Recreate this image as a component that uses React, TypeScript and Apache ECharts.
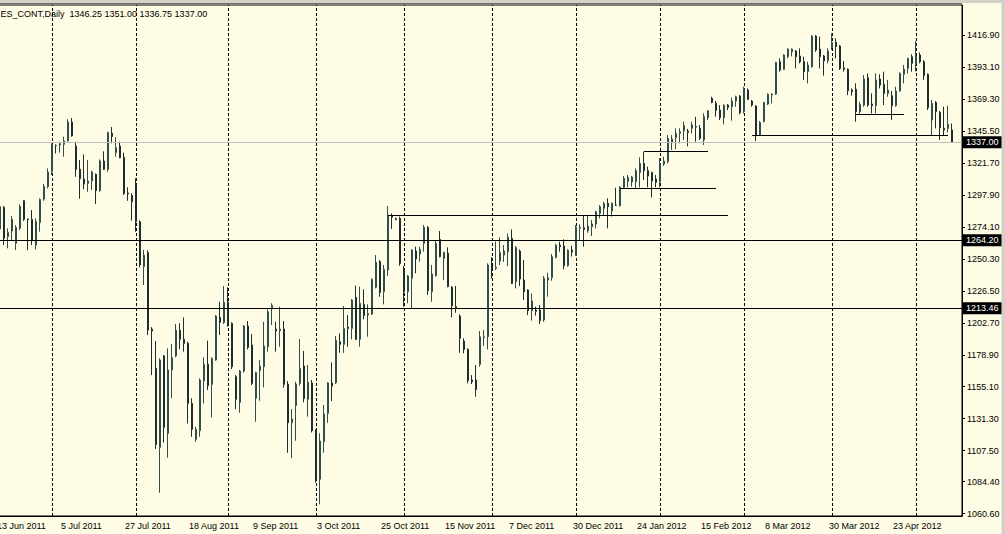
import React, { useEffect, useRef } from "react";
import * as echarts from "echarts";

// ---------- data ----------
const TITLE = "ES_CONT,Daily\u00a0 1346.25 1351.00 1336.75 1337.00";

// trading sessions shown (weekdays, minus closed days, plus one Sunday session)
const FIRST_DAY = "2011-06-13";
const LAST_DAY = "2012-05-14";
const CLOSED_DAYS = ["2011-12-26", "2012-01-02"];
const EXTRA_SESSIONS = ["2011-10-30"];
const EMPTY_SLOTS_AFTER = 2;
const MONTHS = ["Jan", "Feb", "Mar", "Apr", "May", "Jun", "Jul", "Aug", "Sep", "Oct", "Nov", "Dec"];
const LABEL_EVERY = 16;

// [open, high, low, close], one row per session from 14 Jun 2011 on
const ohlc: number[][] = [
  // Jun 2011
  [1272.5, 1290.0, 1270.0, 1289.1], [1288.6, 1289.6, 1260.6, 1265.5], [1266.8, 1273.0, 1258.1, 1270.0],
  [1271.0, 1282.1, 1263.8, 1279.7], [1261.8, 1275.4, 1256.8, 1273.7], [1273.0, 1290.8, 1271.7, 1289.3],
  [1293.6, 1294.0, 1278.4, 1279.7], [1279.9, 1280.1, 1256.8, 1279.4], [1279.7, 1286.6, 1260.6, 1263.8],
  [1260.6, 1280.4, 1257.3, 1278.2], [1277.4, 1295.3, 1270.5, 1294.5], [1294.8, 1306.0, 1293.5, 1304.2],
  [1304.0, 1317.6, 1302.7, 1314.9],
  // Jul 2011
  [1315.1, 1336.2, 1312.6, 1335.7], [1334.5, 1335.5, 1328.8, 1334.4], [1335.0, 1337.5, 1329.3, 1336.0],
  [1335.5, 1341.2, 1326.3, 1338.0], [1338.2, 1354.1, 1337.5, 1352.1], [1352.1, 1355.1, 1341.2, 1341.9],
  [1334.2, 1337.5, 1311.4, 1316.9], [1316.9, 1323.8, 1295.0, 1309.9], [1309.7, 1328.0, 1302.0, 1306.0],
  [1306.5, 1323.8, 1300.2, 1308.2], [1308.2, 1315.9, 1301.5, 1314.9], [1313.1, 1313.9, 1291.1, 1301.0],
  [1301.0, 1324.3, 1300.2, 1323.1], [1323.1, 1330.3, 1316.4, 1316.9], [1316.9, 1344.9, 1315.1, 1344.4],
  [1343.7, 1348.4, 1336.2, 1341.4], [1329.3, 1340.7, 1326.3, 1333.2], [1334.2, 1337.5, 1325.1, 1325.5],
  [1325.8, 1329.3, 1297.8, 1299.0], [1299.3, 1303.5, 1293.5, 1298.5], [1297.5, 1299.0, 1278.7, 1292.8],
  // Aug 2011
  [1306.0, 1310.2, 1270.5, 1277.9], [1277.9, 1279.0, 1244.0, 1245.7], [1244.5, 1257.0, 1230.8, 1253.0],
  [1255.0, 1256.5, 1193.6, 1197.3], [1198.0, 1199.5, 1163.8, 1196.5], [1168.8, 1189.1, 1108.8, 1112.2],
  [1110.0, 1176.2, 1076.2, 1175.0], [1178.0, 1178.7, 1113.5, 1124.9], [1120.4, 1183.7, 1102.3, 1167.6],
  [1167.6, 1186.9, 1146.5, 1176.7], [1178.0, 1201.8, 1177.0, 1197.1], [1197.1, 1202.3, 1182.9, 1190.4],
  [1190.4, 1206.7, 1181.2, 1187.4], [1187.4, 1188.6, 1127.8, 1142.7], [1142.7, 1146.5, 1117.9, 1123.4],
  [1115.9, 1125.4, 1114.2, 1123.4], [1122.4, 1161.3, 1117.9, 1160.1], [1159.4, 1177.0, 1142.7, 1171.8],
  [1171.8, 1189.4, 1152.7, 1155.9], [1156.9, 1177.0, 1132.3, 1176.2], [1175.0, 1208.5, 1174.5, 1207.7],
  [1206.7, 1218.4, 1193.6, 1203.0], [1202.8, 1230.1, 1201.8, 1217.9],
  // Sep 2011
  [1217.9, 1229.1, 1199.8, 1201.5], [1202.3, 1203.0, 1168.3, 1170.0], [1162.6, 1163.8, 1138.3, 1145.7],
  [1143.5, 1167.6, 1135.8, 1166.8], [1166.8, 1201.0, 1165.6, 1200.3], [1200.3, 1204.0, 1182.9, 1184.4],
  [1186.2, 1194.3, 1156.4, 1157.6], [1146.5, 1166.3, 1129.1, 1165.6], [1167.1, 1175.0, 1144.7, 1170.5],
  [1170.0, 1203.5, 1154.6, 1185.4], [1184.9, 1212.7, 1181.2, 1210.9], [1213.9, 1217.2, 1201.0, 1215.7],
  [1198.0, 1203.5, 1181.2, 1196.5], [1196.8, 1214.7, 1184.9, 1198.0], [1198.1, 1204.0, 1154.4, 1156.9],
  [1156.9, 1159.3, 1106.0, 1128.3], [1128.3, 1138.5, 1101.8, 1131.1], [1141.0, 1158.8, 1114.9, 1157.1],
  [1157.6, 1190.6, 1155.9, 1168.8], [1170.5, 1181.7, 1143.5, 1146.4], [1145.7, 1171.3, 1132.8, 1158.4],
  [1157.9, 1160.1, 1121.1, 1122.4],
  // Oct 2011
  [1122.9, 1123.4, 1083.7, 1085.7], [1086.2, 1120.4, 1067.6, 1114.7], [1114.2, 1141.5, 1106.0, 1134.8],
  [1135.3, 1158.4, 1128.3, 1157.9], [1157.9, 1173.2, 1144.5, 1155.6], [1158.1, 1192.8, 1157.1, 1189.6],
  [1188.6, 1194.8, 1180.4, 1186.6], [1186.6, 1215.2, 1180.4, 1198.5], [1199.5, 1208.5, 1184.9, 1198.5],
  [1198.5, 1220.4, 1190.4, 1219.6], [1221.6, 1230.3, 1189.9, 1190.4], [1190.4, 1229.6, 1184.9, 1217.2],
  [1216.4, 1227.6, 1205.3, 1208.0], [1208.5, 1216.4, 1192.3, 1209.7], [1209.2, 1235.8, 1208.5, 1235.0],
  [1229.1, 1253.1, 1228.3, 1247.7], [1248.2, 1249.4, 1222.1, 1225.3], [1225.8, 1245.7, 1216.4, 1242.5],
  [1242.0, 1289.6, 1237.5, 1282.9], [1282.4, 1284.1, 1272.5, 1281.2], [1280.2, 1281.0, 1279.0, 1279.6],
  [1280.4, 1281.7, 1245.2, 1246.9],
  // Nov 2011
  [1242.5, 1245.0, 1214.7, 1225.8], [1225.8, 1238.2, 1217.2, 1237.5], [1235.8, 1257.6, 1213.4, 1256.8],
  [1256.1, 1259.3, 1239.5, 1250.2], [1253.9, 1259.3, 1248.2, 1257.3], [1261.8, 1275.4, 1255.6, 1273.7],
  [1273.7, 1274.7, 1223.4, 1226.6], [1225.8, 1245.7, 1218.4, 1239.0], [1237.7, 1264.3, 1237.0, 1261.8],
  [1264.8, 1271.0, 1251.4, 1251.9], [1250.6, 1255.6, 1234.5, 1254.9], [1254.4, 1258.8, 1229.1, 1229.6],
  [1229.1, 1230.1, 1206.7, 1215.4], [1214.7, 1230.1, 1210.2, 1213.9], [1207.7, 1209.0, 1180.4, 1191.1],
  [1189.1, 1191.1, 1179.9, 1182.9], [1182.9, 1183.7, 1157.6, 1159.6], [1160.1, 1163.8, 1157.1, 1158.8],
  [1160.1, 1171.3, 1147.7, 1153.1], [1171.7, 1196.6, 1170.0, 1192.3], [1191.6, 1197.3, 1185.6, 1192.3],
  [1192.3, 1246.9, 1182.9, 1245.7],
  // Dec 2011
  [1244.9, 1251.4, 1235.8, 1243.2], [1243.0, 1263.1, 1242.0, 1244.0], [1248.7, 1266.3, 1245.7, 1255.1],
  [1253.1, 1260.5, 1248.0, 1256.1], [1255.6, 1269.2, 1244.9, 1266.3], [1265.5, 1272.2, 1231.5, 1232.0],
  [1233.3, 1259.8, 1228.3, 1258.8], [1256.1, 1257.3, 1230.1, 1235.3], [1234.5, 1249.4, 1219.6, 1225.8],
  [1227.1, 1227.6, 1208.5, 1211.7], [1211.7, 1224.6, 1204.3, 1218.9], [1212.2, 1214.7, 1208.0, 1211.2],
  [1212.2, 1215.9, 1201.8, 1204.3], [1204.8, 1237.5, 1203.5, 1235.8], [1234.5, 1240.0, 1222.1, 1236.3],
  [1236.3, 1253.9, 1234.0, 1251.9], [1251.4, 1261.3, 1250.6, 1260.5], [1260.5, 1263.0, 1255.6, 1259.3],
  [1259.8, 1264.8, 1242.5, 1245.2], [1245.2, 1257.3, 1244.5, 1256.8], [1256.8, 1260.0, 1252.0, 1255.4],
  // Jan 2012
  [1252.9, 1275.4, 1252.4, 1273.9], [1273.0, 1275.9, 1264.3, 1273.9], [1273.5, 1282.2, 1259.3, 1272.2],
  [1271.2, 1282.9, 1269.7, 1274.7], [1274.2, 1279.2, 1267.3, 1276.2], [1276.2, 1286.1, 1273.0, 1285.4],
  [1284.1, 1290.3, 1280.4, 1289.1], [1287.8, 1292.8, 1282.9, 1291.6], [1291.6, 1295.3, 1273.0, 1289.1],
  [1285.9, 1292.1, 1281.7, 1291.6], [1290.3, 1303.2, 1289.6, 1290.1], [1289.8, 1304.5, 1289.1, 1303.5],
  [1303.5, 1311.9, 1302.7, 1310.2], [1307.7, 1312.7, 1303.5, 1310.9], [1307.5, 1312.0, 1304.0, 1311.2],
  [1307.7, 1317.6, 1302.7, 1315.9], [1314.6, 1325.8, 1303.5, 1321.3], [1321.3, 1330.0, 1308.9, 1315.9],
  [1315.9, 1318.9, 1303.5, 1311.9], [1314.6, 1315.1, 1296.0, 1308.2], [1309.7, 1312.7, 1303.5, 1307.2],
  // Feb 2012
  [1307.7, 1325.1, 1303.5, 1321.3], [1320.8, 1326.3, 1319.4, 1323.1], [1322.6, 1342.4, 1321.3, 1340.0],
  [1336.7, 1342.4, 1331.3, 1339.5], [1340.4, 1347.4, 1331.8, 1343.7], [1343.7, 1347.4, 1336.2, 1344.9],
  [1345.5, 1352.4, 1338.7, 1349.5], [1345.4, 1347.0, 1334.0, 1344.4], [1347.4, 1352.4, 1343.7, 1349.9],
  [1348.8, 1356.0, 1337.5, 1348.3], [1347.4, 1349.9, 1338.7, 1339.9], [1338.7, 1358.5, 1335.0, 1356.1],
  [1355.3, 1361.0, 1353.6, 1360.3], [1369.7, 1370.9, 1366.0, 1366.7], [1366.0, 1367.7, 1356.1, 1360.8],
  [1361.0, 1364.7, 1353.6, 1355.3], [1355.3, 1365.2, 1350.4, 1364.7], [1364.7, 1365.5, 1361.0, 1363.0],
  [1363.5, 1370.2, 1353.1, 1367.7], [1367.7, 1371.7, 1363.5, 1370.9], [1371.4, 1372.2, 1357.8, 1359.0],
  // Mar 2012
  [1359.8, 1378.4, 1358.5, 1376.7], [1375.9, 1377.1, 1368.5, 1369.0], [1367.7, 1368.5, 1363.5, 1364.7],
  [1364.0, 1364.7, 1338.0, 1341.9], [1342.4, 1352.8, 1341.9, 1351.9], [1352.4, 1367.2, 1351.9, 1366.7],
  [1365.5, 1373.4, 1364.7, 1372.7], [1372.2, 1373.4, 1366.0, 1372.9], [1372.9, 1397.0, 1372.2, 1396.5],
  [1397.0, 1399.5, 1389.6, 1390.8], [1391.3, 1402.5, 1390.8, 1402.0], [1400.7, 1406.9, 1399.5, 1406.4],
  [1404.4, 1406.9, 1401.0, 1406.4], [1404.9, 1405.7, 1392.0, 1400.7], [1401.2, 1406.9, 1395.8, 1397.0],
  [1397.0, 1400.7, 1383.4, 1389.6], [1389.6, 1397.0, 1380.9, 1394.5], [1393.3, 1416.8, 1392.5, 1416.1],
  [1416.1, 1416.8, 1404.4, 1405.7], [1406.4, 1415.6, 1392.0, 1400.7], [1401.2, 1402.0, 1386.6, 1397.5],
  [1397.7, 1406.9, 1395.8, 1404.9],
  // Apr 2012
  [1407.4, 1418.1, 1405.7, 1411.4], [1411.4, 1414.4, 1399.5, 1408.2], [1408.7, 1409.4, 1390.8, 1392.0],
  [1392.5, 1397.5, 1389.6, 1391.3], [1391.3, 1392.0, 1372.2, 1375.4], [1375.9, 1377.1, 1371.7, 1374.7],
  [1376.4, 1380.9, 1352.4, 1359.8], [1359.8, 1367.2, 1357.3, 1365.2], [1364.7, 1387.1, 1363.5, 1384.1],
  [1385.1, 1388.3, 1363.5, 1364.7], [1365.5, 1373.4, 1358.5, 1364.3], [1364.3, 1388.3, 1358.5, 1383.4],
  [1384.1, 1387.6, 1377.1, 1379.6], [1380.1, 1389.6, 1364.7, 1373.4], [1373.4, 1383.4, 1370.9, 1375.9],
  [1371.7, 1375.2, 1353.6, 1364.3], [1364.3, 1378.4, 1363.5, 1375.2], [1375.2, 1389.1, 1374.7, 1388.3],
  [1387.6, 1394.5, 1380.9, 1391.5], [1392.0, 1400.0, 1388.3, 1399.5], [1400.7, 1402.5, 1389.6, 1395.8],
  // May 2012
  [1395.8, 1412.4, 1389.6, 1401.2], [1402.0, 1403.9, 1395.8, 1397.0], [1397.0, 1398.2, 1383.4, 1386.6],
  [1387.6, 1388.3, 1361.0, 1362.8], [1353.6, 1368.5, 1342.4, 1366.0], [1366.7, 1367.7, 1347.4, 1359.8],
  [1359.3, 1360.3, 1338.7, 1347.9], [1347.4, 1363.5, 1342.4, 1346.1], [1347.4, 1364.3, 1344.4, 1350.4],
  [1346.25, 1351.0, 1336.75, 1337.0],
];
const FIRST_BAR_DAY = "14 Jun 2011";

const PRICE_TICKS = [
  1060.6, 1084.4, 1107.5, 1131.3, 1155.1, 1178.9, 1202.7, 1226.5,
  1250.3, 1274.1, 1297.9, 1321.7, 1345.5, 1369.3, 1393.1, 1416.9,
];
const PRICE_MIN = 1058.9;
const PRICE_MAX = 1439.2;

const BID_PRICE = 1337.0;
const LEVEL_PRICES = [1264.2, 1213.46];
const LEVEL_LABELS = ["1264.20", "1213.46"];
const SEGMENT_FROM = ["27 Oct 2011", "18 Jan 2012", "26 Jan 2012", "5 Mar 2012", "10 Apr 2012"];
const SEGMENT_TO = ["24 Feb 2012", "21 Feb 2012", "17 Feb 2012", "11 May 2012", "26 Apr 2012"];
const SEGMENT_PRICE = [1282.9, 1302.7, 1330.2, 1342.3, 1357.8];

// ---------- derived ----------
function fmtDate(d: Date): string {
  return `${d.getUTCDate()} ${MONTHS[d.getUTCMonth()]} ${d.getUTCFullYear()}`;
}
function buildSessions(): Date[] {
  const out: Date[] = [];
  const skip = new Set(CLOSED_DAYS);
  const extra = new Set(EXTRA_SESSIONS);
  const end = Date.parse(LAST_DAY + "T00:00:00Z");
  for (let t = Date.parse(FIRST_DAY + "T00:00:00Z"); t <= end; t += 86400000) {
    const d = new Date(t);
    const iso = d.toISOString().slice(0, 10);
    const wd = d.getUTCDay();
    if ((wd >= 1 && wd <= 5 && !skip.has(iso)) || extra.has(iso)) out.push(d);
  }
  return out;
}
const sessions = buildSessions();
const sessionLabels = sessions.map(fmtDate);
const categories = [...sessionLabels, ...Array.from({ length: EMPTY_SLOTS_AFTER }, (_, i) => " ".repeat(i + 1))];
const monthStarts = sessions
  .map((d, i) => (i > 0 && d.getUTCMonth() !== sessions[i - 1].getUTCMonth() ? sessionLabels[i] : null))
  .filter((v) => v !== null) as string[];

const firstBar = sessionLabels.indexOf(FIRST_BAR_DAY);
const candleData = categories.map((_, i) => {
  const b = ohlc[i - firstBar];
  if (i < firstBar || !b) return ["-", "-", "-", "-"];
  const [o, h, l, c] = b;
  return [o, c, Math.min(l, o, c), Math.max(h, o, c)];
});

const BG = "#FFFCE5";
const FONT = "Liberation Sans";
const labelInterval = (i: number, v: string) => i % LABEL_EVERY === 0 && v.trim() !== "";

const priceBox = (text: string) => ({
  show: true,
  position: "end",
  formatter: text,
  color: "#FFFFFF",
  backgroundColor: "#000000",
  padding: [2, 3, 1, 3],
  fontSize: 9,
  fontFamily: FONT,
  distance: 1,
});

const option: any = {
  animation: false,
  backgroundColor: BG,
  textStyle: { fontFamily: FONT },
  title: {
    text: TITLE,
    left: 6.5,
    top: 8,
    padding: 0,
    textStyle: { fontSize: 9, fontWeight: "normal", color: "#000", fontFamily: FONT, lineHeight: 11 },
  },
  grid: {
    left: 0,
    top: 5,
    width: 968,
    height: 511,
    show: true,
    backgroundColor: BG,
    borderColor: "#000",
    borderWidth: 1,
  },
  xAxis: {
    type: "category",
    data: categories,
    boundaryGap: true,
    axisLine: { lineStyle: { color: "#000", width: 1 } },
    axisTick: { alignWithLabel: true, interval: labelInterval, length: 4, lineStyle: { color: "#000" } },
    axisLabel: {
      interval: labelInterval,
      align: "left",
      margin: 5,
      fontSize: 9,
      color: "#000",
      fontFamily: FONT,
      padding: [0, 0, 0, 1],
    },
    splitLine: { show: false },
  },
  yAxis: {
    type: "value",
    position: "right",
    min: PRICE_MIN,
    max: PRICE_MAX,
    axisLine: { show: true, lineStyle: { color: "#000" } },
    axisTick: { show: true, length: 3, customValues: PRICE_TICKS, lineStyle: { color: "#000" } },
    axisLabel: {
      customValues: PRICE_TICKS,
      formatter: (v: number) => v.toFixed(2),
      margin: 5,
      fontSize: 9,
      color: "#000",
      fontFamily: FONT,
      padding: [0, 0, 4, 0],
    },
    splitLine: { show: false },
  },
  graphic: [
    { type: "rect", silent: true, shape: { x: 0, y: 0, width: 1012, height: 3 }, style: { fill: "#D4D0C8" } },
    { type: "rect", silent: true, shape: { x: 0, y: 3, width: 968, height: 1 }, style: { fill: "#707070" } },
    { type: "rect", silent: true, shape: { x: 1007.5, y: 0, width: 4, height: 534 }, style: { fill: "#D4D0C8" } },
  ],
  series: [
    {
      type: "line",
      data: [],
      z: 1,
      silent: true,
      showSymbol: false,
      markLine: {
        z: 1,
        silent: true,
        symbol: ["none", "none"],
        label: { show: false },
        lineStyle: { color: "#000", type: [3, 2], width: 1 },
        data: monthStarts.map((m) => ({ xAxis: m })),
      },
    },
    {
      type: "candlestick",
      data: candleData,
      barWidth: 2,
      z: 2,
      itemStyle: {
        color: "#F2EDA8",
        color0: "#262626",
        borderColor: "#2F4F4F",
        borderColor0: "#1E2E2E",
        borderWidth: 1,
      },
      markLine: {
        silent: true,
        symbol: ["none", "none"],
        label: { show: false },
        lineStyle: { color: "#000", type: "solid", width: 1 },
        data: [
          { yAxis: BID_PRICE, lineStyle: { color: "#BEBEBE", type: "solid", width: 1 }, label: priceBox(BID_PRICE.toFixed(2)) },
          ...LEVEL_PRICES.map((p, i) => ({ yAxis: p, label: priceBox(LEVEL_LABELS[i]) })),
          ...SEGMENT_PRICE.map((p, i) => [
            { coord: [SEGMENT_FROM[i], p] },
            { coord: [SEGMENT_TO[i], p] },
          ]),
        ],
      },
    },
  ],
};

export default function App() {
  const ref = useRef<HTMLDivElement>(null);
  useEffect(() => {
    if (!ref.current) return;
    const chart = echarts.init(ref.current, null, { renderer: "svg" });
    chart.setOption(option);
    return () => chart.dispose();
  }, []);
  return (
    <div
      ref={ref}
      style={{ position: "fixed", left: -6.5, top: 0, width: 1011.5, height: 534, background: BG }}
    />
  );
}
